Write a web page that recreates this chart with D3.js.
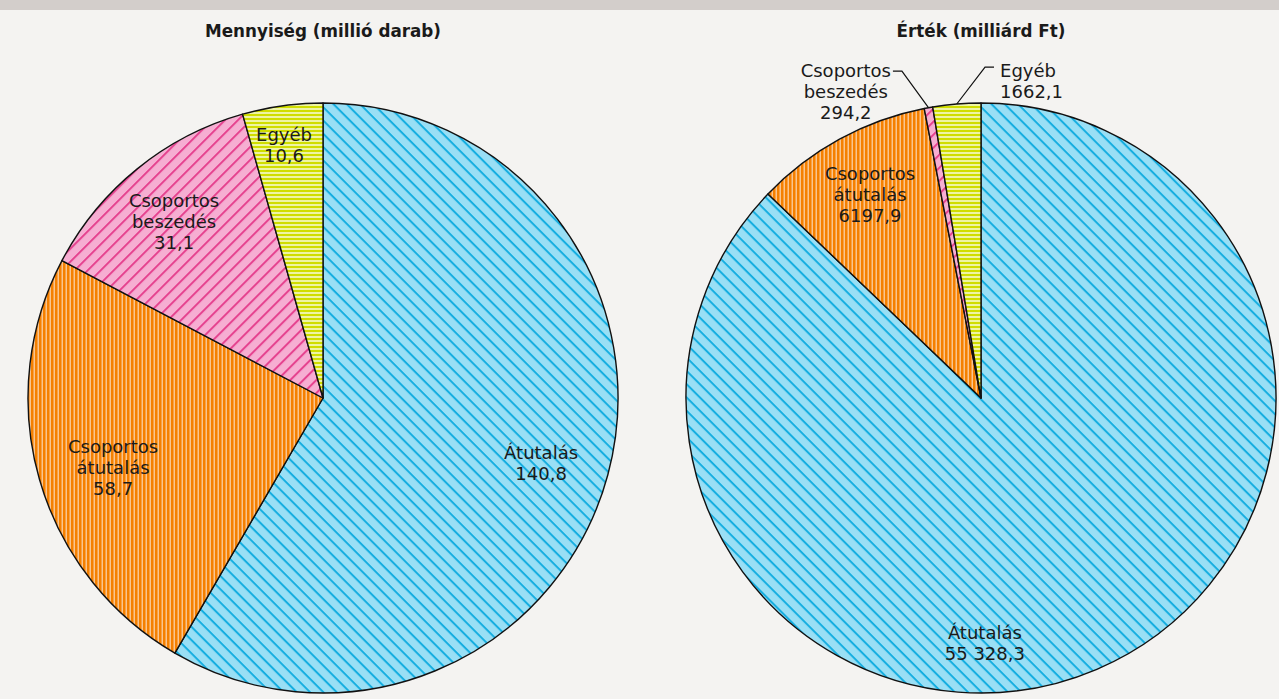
<!DOCTYPE html>
<html>
<head>
<meta charset="utf-8">
<script src="https://cdn.jsdelivr.net/npm/d3@7"></script>
<style>
  html, body { margin: 0; padding: 0; background: #f4f3f1; }
  svg { display: block; }
  text { font-family: "DejaVu Sans", sans-serif; fill: #1a1a1a; }
</style>
</head>
<body>
<svg id="chart" width="1279" height="699"></svg>
<script>
// ---- data ----
const categories = ["Átutalás", "Csoportos átutalás", "Csoportos beszedés", "Egyéb"];
const labelLines = [["Átutalás"], ["Csoportos", "átutalás"], ["Csoportos", "beszedés"], ["Egyéb"]];
const quantityValues = [140.8, 58.7, 31.1, 10.6];
const quantityLabels = ["140,8", "58,7", "31,1", "10,6"];
const valueValues = [55328.3, 6197.9, 294.2, 1662.1];
const valueLabels = ["55 328,3", "6197,9", "294,2", "1662,1"];
const titles = ["Mennyiség (millió darab)", "Érték (milliárd Ft)"];

// ---- layout / style ----
const W = 1279, H = 699;
const R = 295;
const centers = [[323, 398], [981, 398]];
const patternIds = ["pBlue", "pOrange", "pPink", "pYellow"];
const labelFont = 18;
const lineH = 21;
// label placement: angle (deg, clockwise from top), radial fraction, optional leader
const labelLayout = [
  [ {a: 106.5, k: 0.771}, {a: 251.6, k: 0.75}, {a: 319.9, k: 0.784}, {a: 351.25, k: 0.869} ],
  [ {a: 179.1, k: 0.832}, {a: 331.45, k: 0.787},
    {leader: true, elbowA: 346.4, elbowK: 1.14, side: -1},
    {leader: true, elbowA: 0.7, elbowK: 1.122, side: 1} ]
];

const svg = d3.select("#chart");
svg.append("rect").attr("width", W).attr("height", H).attr("fill", "#f4f3f1");
svg.append("rect").attr("width", W).attr("height", 10).attr("fill", "#d3cecb");

// ---- patterns ----
const defs = svg.append("defs");
function diagPattern(id, bg, fg, angle, spacing, lw) {
  const p = defs.append("pattern").attr("id", id).attr("patternUnits", "userSpaceOnUse")
    .attr("width", spacing).attr("height", spacing)
    .attr("patternTransform", `rotate(${angle})`);
  p.append("rect").attr("width", spacing).attr("height", spacing).attr("fill", bg);
  p.append("rect").attr("width", spacing).attr("height", lw).attr("fill", fg);
}
diagPattern("pBlue", "#99dff5", "#16aee0", 45, 9.4, 2);
diagPattern("pPink", "#f6aed2", "#e5418e", -45, 9.2, 2);
(function () {
  const p = defs.append("pattern").attr("id", "pOrange").attr("patternUnits", "userSpaceOnUse")
    .attr("width", 4).attr("height", 4);
  p.append("rect").attr("width", 4).attr("height", 4).attr("fill", "#f9c590");
  p.append("rect").attr("width", 2.5).attr("height", 4).attr("fill", "#f58000");
  const q = defs.append("pattern").attr("id", "pYellow").attr("patternUnits", "userSpaceOnUse")
    .attr("width", 4).attr("height", 4);
  q.append("rect").attr("width", 4).attr("height", 4).attr("fill", "#eef4a4");
  q.append("rect").attr("width", 4).attr("height", 2).attr("fill", "#d0dd00");
})();

const pie = d3.pie().sort(null).value(d => d);
const arc = d3.arc().innerRadius(0).outerRadius(R);
const rad = a => a * Math.PI / 180;
const polar = (a, r) => [r * Math.sin(rad(a)), -r * Math.cos(rad(a))];

function drawPie(idx, values, numLabels) {
  const [cx, cy] = centers[idx];
  const g = svg.append("g").attr("transform", `translate(${cx},${cy})`);
  const arcs = pie(values);
  g.selectAll("path.slice").data(arcs).join("path")
    .attr("class", "slice")
    .attr("d", arc)
    .attr("fill", (d, i) => `url(#${patternIds[i]})`)
    .attr("stroke", "#111")
    .attr("stroke-width", 1.4)
    .attr("stroke-linejoin", "round");

  svg.append("text")
    .attr("x", cx).attr("y", 37)
    .attr("text-anchor", "middle")
    .attr("font-weight", "bold")
    .attr("font-size", 16.8)
    .text(titles[idx]);

  arcs.forEach((d, i) => {
    const lay = labelLayout[idx][i];
    const lines = labelLines[i].concat([numLabels[i]]);
    if (!lay.leader) {
      const [x, y] = polar(lay.a, lay.k * R);
      const t = g.append("text").attr("text-anchor", "middle").attr("font-size", labelFont);
      const y0 = y - (lines.length - 1) * lineH / 2 + 6.5;
      lines.forEach((ln, j) => {
        t.append("tspan").attr("x", x).attr("y", y0 + j * lineH).text(ln);
      });
    } else {
      const midA = (d.startAngle + d.endAngle) / 2 * 180 / Math.PI;
      const p0 = polar(midA, R);
      const p1 = polar(lay.elbowA, lay.elbowK * R);
      const p2 = [p1[0] + lay.side * 9, p1[1]];
      g.append("path")
        .attr("d", d3.line()([p0, p1, p2]))
        .attr("fill", "none").attr("stroke", "#111").attr("stroke-width", 1.2);
      const t = g.append("text").attr("font-size", labelFont);
      const yb = p1[1] + 5.5;
      if (lay.side < 0) {
        const tx = p2[0] - 2;
        const tmp = g.append("text").attr("font-size", labelFont).text(lines[0]);
        const w0 = tmp.node().getComputedTextLength();
        tmp.remove();
        const xc = tx - w0 / 2;
        t.attr("text-anchor", "middle");
        lines.forEach((ln, j) => {
          t.append("tspan").attr("x", xc).attr("y", yb + j * lineH).text(ln);
        });
      } else {
        const tx = p2[0] + 6;
        t.attr("text-anchor", "start");
        lines.forEach((ln, j) => {
          t.append("tspan").attr("x", tx).attr("y", yb + 4 + j * lineH).text(ln);
        });
      }
    }
  });
}

drawPie(0, quantityValues, quantityLabels);
drawPie(1, valueValues, valueLabels);
</script>
</body>
</html>
